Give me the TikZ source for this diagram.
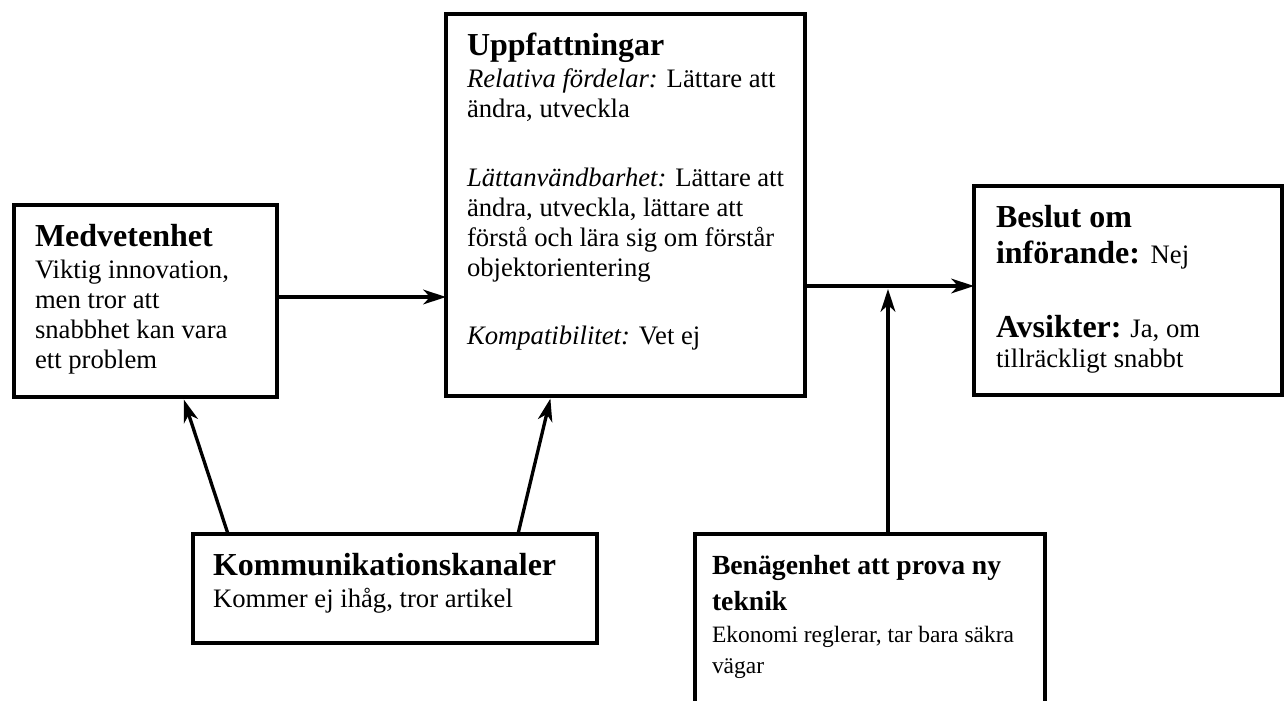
\documentclass[tikz,border=0pt]{standalone}
\usepackage{fontspec}
\setmainfont{Liberation Serif}
\usetikzlibrary{arrows.meta,calc}

% type sizes for box headings and box text
\newcommand{\headsize}{\fontsize{24pt}{27pt}\selectfont}
\newcommand{\bodysize}{\fontsize{20pt}{22.5pt}\selectfont}
% fixes the first baseline at a constant distance below the box edge
\newcommand{\firstline}{\rule{0pt}{30.75pt}}
% top-aligned text block of given width and height
\newcommand{\cardbody}[3]{%
  \begin{minipage}[t][#2][t]{#1}%
    \raggedright\setlength{\parskip}{0pt}\setlength{\parindent}{0pt}%
    #3%
  \end{minipage}}

\begin{document}
\begin{tikzpicture}[
  x=0.75pt, y=-0.75pt,
  card/.style={draw, line width=3pt, rectangle, inner ysep=0pt,
    outer sep=0pt, anchor=north west, minimum width=0pt, minimum height=0pt},
  flow/.style={line width=2.5pt,
    -{Stealth[length=17pt,width=11pt,inset=5pt]}}
]
\useasboundingbox (0,0) rectangle (1285,700);
\clip (0,0) rectangle (1285,700);

% ---- boxes ----
\node[card, inner xsep=15.75pt] (medv) at (14,205) {\cardbody{165.75pt}{144pt}{%
  {\headsize\bfseries\firstline Medvetenhet\par}
  \vspace{1.5pt}
  {\bodysize Viktig innovation,\\ men tror att\\ snabbhet kan vara\\ ett problem\par}}};

\node[card, inner xsep=15.75pt] (upp) at (446,14) {\cardbody{237.75pt}{286.5pt}{%
  {\headsize\bfseries\firstline Uppfattningar\par}
  \vspace{1.5pt}
  {\bodysize \textit{Relativa fördelar:} Lättare att\\ ändra, utveckla\par}
  \vspace{29.25pt}
  {\bodysize \textit{Lättanvändbarhet:} Lättare att\\ ändra, utveckla, lättare att\\
    förstå och lära sig om förstår\\ objektorientering\par}
  \vspace{28.5pt}
  {\bodysize \textit{Kompatibilitet:} Vet ej\par}}};

\node[card, inner xsep=16.5pt] (beslut) at (974,186) {\cardbody{198pt}{156.75pt}{%
  {\headsize\bfseries\firstline Beslut om\\ införande: {\mdseries\fontsize{20pt}{27pt}\selectfont Nej}\par}
  \vspace{33pt}
  {\bodysize {\fontsize{24pt}{22.5pt}\selectfont\bfseries Avsikter:} Ja, om\\ tillräckligt snabbt\par}}};

\node[card, inner xsep=15pt] (kk) at (193,534) {\cardbody{273pt}{81.75pt}{%
  {\headsize\bfseries\firstline Kommunikationskanaler\par}
  \vspace{1.5pt}
  {\bodysize Kommer ej ihåg, tror artikel\par}}};

% this box runs past the lower edge; its text is set a little smaller
\node[card, inner xsep=12.75pt] (ben) at (695,534) {\cardbody{237pt}{139.5pt}{%
  {\fontsize{20.75pt}{27pt}\selectfont\bfseries\rule{0pt}{30pt}Benägenhet att prova ny\\ teknik\par}
  \vspace{0.75pt}
  {\fontsize{17.6pt}{23.25pt}\selectfont Ekonomi reglerar, tar bara säkra\\ vägar\par}}};

% ---- connectors ----
\coordinate (m1) at ($(medv.east)+(0,-4)$);
\draw[flow] (m1) -- (m1 -| upp.west);

\coordinate (jn) at ($(beslut.west)+(0,-4.5)$);
\draw[flow] (upp.east |- jn) -- (jn);

\coordinate (b1) at ($(ben.north west)+(193,0)$);
\draw[flow, shorten >=2.25pt] (b1) -- (b1 |- jn);

\draw[flow, shorten >=2pt] ($(kk.north west)+(35,0)$) -- ($(medv.south west)+(169,0)$);
\draw[flow, shorten >=2pt] ($(kk.north west)+(325,0)$) -- ($(upp.south west)+(105,0)$);
\end{tikzpicture}
\end{document}
